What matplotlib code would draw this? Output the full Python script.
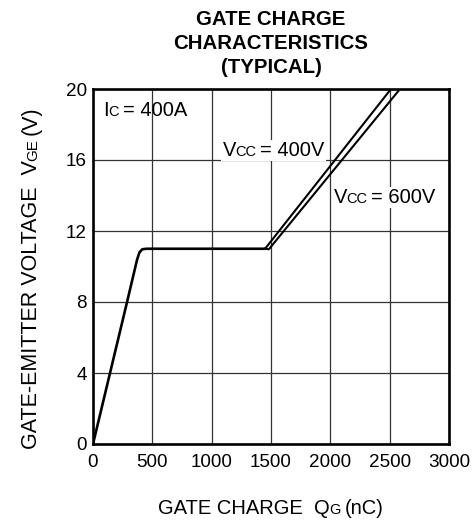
import matplotlib
matplotlib.use("Agg")
import matplotlib.pyplot as plt
from matplotlib.transforms import IdentityTransform
from matplotlib.patches import Rectangle

plt.rcParams["font.family"] = ["Liberation Sans", "DejaVu Sans"]

# gate charge curve, shared part (nC, V)
qg_common = [0, 287, 372, 392, 415, 450, 1450]
vge_common = [0, 8.0, 10.4, 10.8, 10.97, 11.0, 11.0]

# Vcc = 400V branch
qg_400 = [1450, 2511]
vge_400 = [11.0, 20.0]

# Vcc = 600V branch
qg_600 = [1450, 1482, 2587]
vge_600 = [11.0, 10.97, 20.0]

x_ticks = [0, 500, 1000, 1500, 2000, 2500, 3000]
y_ticks = [0, 4, 8, 12, 16, 20]
title_lines = ["GATE CHARGE", "CHARACTERISTICS", "(TYPICAL)"]

BIG = 14.5
SMALL = 10.5


def rich_text(fig, target, x, y, pieces, rotation=0, center=False, zorder=3,
              background=False):
    """Draw text pieces of different sizes on one baseline (pixel coords)."""
    renderer = fig.canvas.get_renderer()
    texts, lengths = [], []
    for s, size, gap in pieces:
        t = target.text(0, 0, s, fontsize=size, rotation=rotation,
                        rotation_mode="anchor", ha="left", va="baseline",
                        transform=IdentityTransform(), zorder=zorder)
        ext = t.get_window_extent(renderer)
        texts.append(t)
        lengths.append((gap, ext.width if rotation == 0 else ext.height))
    total = sum(g + l for g, l in lengths)
    pos = (x if rotation == 0 else y) - (total / 2 if center else 0)
    for t, (gap, length) in zip(texts, lengths):
        pos += gap
        t.set_position((pos, y) if rotation == 0 else (x, pos))
        pos += length
    if background:
        exts = [t.get_window_extent(renderer) for t in texts]
        x0 = min(e.x0 for e in exts) - 2
        x1 = max(e.x1 for e in exts) + 1
        y0 = min(e.y0 for e in exts) - 1
        y1 = max(e.y1 for e in exts) + 1
        target.add_patch(Rectangle((x0, y0), x1 - x0, y1 - y0,
                                   transform=IdentityTransform(),
                                   facecolor="white", edgecolor="none",
                                   zorder=zorder - 0.1))
    return texts


fig = plt.figure(figsize=(4.75, 5.25), dpi=100)
ax = fig.add_axes([93 / 475, 81 / 525, 356 / 475, 355 / 525])

ax.plot(qg_common, vge_common, color="black", lw=1.9, solid_joinstyle="round",
        solid_capstyle="round", zorder=3)
ax.plot(qg_400, vge_400, color="black", lw=1.5, zorder=3)
ax.plot(qg_600, vge_600, color="black", lw=1.5, zorder=3)

ax.set_xlim(0, 3000)
ax.set_ylim(0, 20)
ax.set_xticks(x_ticks)
ax.set_yticks(y_ticks)
ax.tick_params(axis="both", length=0, labelsize=13.6)
ax.tick_params(axis="x", pad=7)
ax.tick_params(axis="y", pad=4.5)
ax.grid(True, color="#333333", lw=0.9)
for sp in ax.spines.values():
    sp.set_linewidth(1.9)
    sp.set_zorder(4)

for i, line in enumerate(title_lines):
    fig.text(271 / 475, (500 - 24 * i) / 525, line, ha="center",
             va="baseline", fontsize=14.7, fontweight="bold")

# axis labels
rich_text(fig, fig, 271, 11,
          [("GATE CHARGE  Q", BIG, 0), ("G", SMALL, -0.5), ("(nC)", BIG, 4)],
          center=True)
rich_text(fig, fig, 37, 247,
          [("GATE-EMITTER VOLTAGE  V", 15.5, 0), ("GE", 11, -0.5),
           ("(V)", 15.5, 4)],
          rotation=90, center=True)

# annotations inside the plot
rich_text(fig, ax, 103, 409,
          [("I", BIG, 0), ("C", SMALL, -0.5), ("= 400A", BIG, 4)], zorder=2)
rich_text(fig, ax, 223, 369,
          [("V", BIG, 0), ("CC", SMALL, -1), ("= 400V", BIG, 4)], zorder=2,
          background=True)
rich_text(fig, ax, 334, 322,
          [("V", BIG, 0), ("CC", SMALL, -1), ("= 600V", BIG, 4)], zorder=2,
          background=True)

fig.savefig("out.png", dpi=100)
